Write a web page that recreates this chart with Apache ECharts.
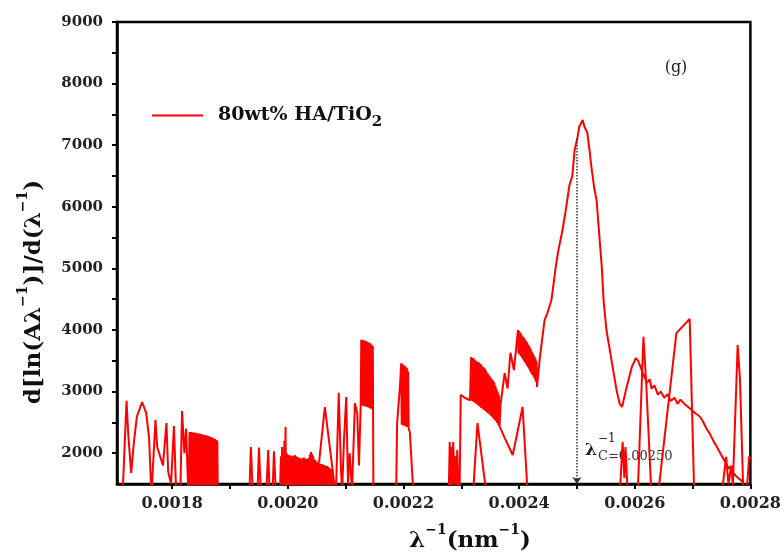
<!DOCTYPE html>
<html>
<head>
<meta charset="utf-8">
<script src="https://cdn.jsdelivr.net/npm/echarts@6/dist/echarts.min.js"></script>
<style>html,body{margin:0;padding:0;background:#fff;}#c{width:784px;height:555px;}</style>
</head>
<body>
<div id="c"></div>
<script>
// ---- data (x = λ⁻¹ in nm⁻¹, y = d[ln(Aλ⁻¹)]/d(λ⁻¹)) ----
// values below the axis minimum (1500) are clipped by the plot, as in the original
const traceLeft = [
[0.001709,1200],[0.001714,1300],[0.001721,2850],[0.001724,2300],[0.001729,1680],[0.001734,2200],[0.001739,2600],[0.001748,2830],[0.001755,2650],[0.001760,2250],[0.001764,1300],[0.001771,2540],[0.001774,2100],[0.001779,1950],[0.001784,1800],[0.001790,2490],[0.001793,1700],[0.001798,1500],[0.001803,2440],[0.001807,1300],[0.001814,1350],[0.001817,2685],[0.001821,2000],[0.001824,2400],[0.001828,1300],
[0.001830,2345],[0.001831,1200],[0.001832,2342],[0.001833,1200],[0.001834,2340],[0.001835,1200],[0.001836,2337],[0.001837,1200],[0.001838,2335],[0.001839,1200],[0.001840,2330],[0.001841,1200],[0.001842,2325],[0.001843,1200],[0.001844,2322],[0.001845,1200],[0.001846,2320],[0.001847,1200],[0.001848,2315],[0.001849,1200],[0.001850,2310],[0.001851,1200],[0.001852,2305],[0.001853,1200],[0.001854,2300],[0.001855,1200],[0.001856,2295],[0.001857,1200],[0.001858,2290],[0.001859,1200],[0.001860,2285],[0.001861,1200],[0.001862,2280],[0.001863,1200],[0.001864,2272],[0.001865,1200],[0.001866,2265],[0.001867,1200],[0.001868,2258],[0.001869,1200],[0.001870,2250],[0.001871,1200],[0.001872,2240],[0.001873,1200],[0.001874,2230],[0.001875,1200],[0.001876,2215],[0.001877,1200],[0.001878,2200],[0.001879,1200],
[0.001933,1200],[0.001936,2100],[0.001940,1200],[0.001947,1200],[0.001950,2090],[0.001954,1200],[0.001962,1200],[0.001966,2050],[0.001969,1200],[0.001973,1200],[0.001976,2030],[0.001980,1200],[0.001986,1200],
[0.001988,1950],[0.001989,1200],[0.001990,2100],[0.001991,1250],[0.001992,2000],[0.001993,1200],[0.001994,2200],[0.001995,1300],[0.001996,2425],[0.001997,1250],[0.001998,2000],[0.001999,1200],
[0.002000,1980],[0.002001,1250],[0.002002,1960],[0.002003,1200],[0.002004,1965],[0.002005,1300],[0.002006,1950],[0.002007,1200],[0.002008,1950],[0.002009,1250],[0.002010,1960],[0.002011,1200],[0.002012,1970],[0.002013,1300],[0.002014,1950],[0.002015,1200],[0.002016,1940],[0.002017,1250],[0.002018,1930],[0.002019,1200],
[0.002020,1920],[0.002021,1300],[0.002022,1915],[0.002023,1200],[0.002024,1910],[0.002025,1250],[0.002026,1920],[0.002027,1200],[0.002028,1930],[0.002029,1300],[0.002030,1910],[0.002031,1200],[0.002032,1900],[0.002033,1250],[0.002034,1910],[0.002035,1200],[0.002036,1920],[0.002037,1300],[0.002038,1980],[0.002039,1200],
[0.002040,2020],[0.002041,1250],[0.002042,1990],[0.002043,1200],[0.002044,1950],[0.002045,1300],[0.002046,1900],[0.002047,1200],[0.002048,1880],[0.002049,1250],[0.002050,1860],[0.002051,1200],[0.002052,1850],[0.002053,1300],[0.002054,1840],[0.002055,1200],[0.002056,1830],[0.002057,1250],[0.002058,1825],[0.002059,1200],
[0.002060,1820],[0.002061,1300],[0.002062,1810],[0.002063,1200],[0.002064,1800],[0.002065,1250],[0.002066,1795],[0.002067,1200],[0.002068,1790],[0.002069,1300],[0.002070,1775],[0.002071,1200],[0.002072,1760],[0.002073,1250],[0.002074,1745],[0.002075,1200],[0.002076,1730],[0.002077,1200],[0.002078,1710],[0.002079,1200],
[0.002079,null],
[0.002054,1850],[0.002064,2750],[0.002083,1300],[0.002088,2980],[0.002092,1700],[0.002094,1400],[0.002097,2200],[0.002101,2910],[0.002104,1500],[0.002107,2000],[0.002111,1400],[0.002116,2810],[0.002120,2650],[0.002123,1800],
[0.002126,2780],[0.002127,3840],[0.002128,2780],[0.002129,3840],[0.002130,2770],[0.002131,3835],[0.002132,2765],[0.002133,3830],[0.002134,2760],[0.002135,3820],[0.002136,2755],[0.002137,3810],[0.002138,2745],[0.002139,3800],[0.002140,2740],[0.002141,3790],[0.002142,2730],[0.002143,3780],[0.002144,2720],[0.002145,3760],[0.002146,2710],[0.002147,3740],[0.002148,1200]
];
const traceMain = [
[0.002187,1200],[0.002189,2490],[0.002192,2470],[0.002194,3100],
[0.002196,3460],[0.002197,2460],[0.002198,3450],[0.002199,2455],[0.002200,3430],[0.002201,2450],[0.002202,3420],[0.002203,2440],[0.002204,3400],[0.002205,2430],[0.002206,3380],[0.002207,2420],[0.002208,3330],[0.002209,2400],[0.002210,2380],[0.002211,2340],[0.002214,2320],[0.002218,1200],
[0.002278,1200],[0.002280,2180],[0.002281,1400],[0.002283,2100],[0.002284,1300],[0.002286,2180],[0.002288,1500],[0.002290,1950],[0.002291,1300],[0.002293,2050],[0.002295,1400],[0.002297,1300],[0.002299,2950],[0.002306,2900],[0.002315,2860],
[0.002317,3560],[0.002318,2850],[0.002319,3550],[0.002320,2840],[0.002321,3540],[0.002322,2830],[0.002323,3520],[0.002324,2820],[0.002325,3500],[0.002326,2800],[0.002327,3490],[0.002328,2790],[0.002329,3480],[0.002330,2770],[0.002331,3465],[0.002332,2760],[0.002333,3450],[0.002334,2740],[0.002335,3430],[0.002336,2730],[0.002337,3400],[0.002338,2710],[0.002339,3390],[0.002340,2700],[0.002341,3370],[0.002342,2680],[0.002343,3340],[0.002344,2670],[0.002345,3300],[0.002346,2650],[0.002347,3280],[0.002348,2640],[0.002349,3250],[0.002350,2620],[0.002351,3230],[0.002352,2600],[0.002353,3200],[0.002354,2580],[0.002355,3180],[0.002356,2560],[0.002357,3150],[0.002358,2540],[0.002359,3100],[0.002360,2520],[0.002361,3050],[0.002362,2490],[0.002363,3000],[0.002364,2460],[0.002365,2950],[0.002366,2420],
[0.002368,2800],[0.002375,3300],[0.002380,3050],[0.002385,3630],[0.002391,3350],
[0.002398,4000],[0.002399,3620],[0.002400,3980],[0.002401,3600],[0.002402,3960],[0.002403,3580],[0.002404,3930],[0.002405,3550],[0.002406,3900],[0.002407,3520],[0.002408,3880],[0.002409,3490],[0.002410,3850],[0.002411,3460],[0.002412,3820],[0.002413,3430],[0.002414,3800],[0.002415,3400],[0.002416,3760],[0.002417,3370],[0.002418,3730],[0.002419,3330],[0.002420,3700],[0.002421,3300],[0.002422,3650],[0.002423,3270],[0.002424,3620],[0.002425,3240],[0.002426,3580],[0.002427,3200],[0.002428,3550],[0.002429,3160],[0.002430,3500],[0.002431,3075],
[0.002436,3560],[0.002444,4160],[0.002449,4275],[0.002456,4490],[0.002463,5000],[0.002468,5300],[0.002474,5570],[0.002480,5900],[0.002487,6350],[0.002492,6500],[0.002496,6920],[0.002501,7130],[0.002504,7300],[0.002510,7410],[0.002513,7300],[0.002518,7200],[0.002522,6900],[0.002525,6650],[0.002530,6300],[0.002534,6110],[0.002539,5500],[0.002543,5020],[0.002546,4490],[0.002551,4000],[0.002560,3500],[0.002569,3000],[0.002574,2800],[0.002578,2750],
[0.002586,3075],[0.002595,3400],[0.002602,3545],[0.002606,3500],[0.002609,3480],[0.002614,3300],[0.002621,3140],[0.002626,3200],[0.002629,3050],[0.002634,3100],[0.002640,2950],[0.002645,3000],[0.002651,2900],[0.002657,2960],[0.002662,2850],[0.002669,2900],[0.002674,2800],[0.002679,2870],[0.002686,2800],[0.002695,2730],[0.002701,2680],[0.002706,2640],[0.002712,2600],[0.002717,2530],[0.002724,2400],[0.002729,2330],[0.002736,2200],[0.002741,2120],[0.002748,2000],[0.002755,1880],[0.002760,1800],[0.002767,1720],[0.002774,1640],[0.002781,1580],[0.002786,1540],[0.002791,1300]
];
const traceOverlap = [
[0.002320,1300],[0.002328,2490],[0.002344,1300],[0.002344,null],
[0.002361,2550],[0.002375,2250],[0.002389,1970],[0.002406,2750],[0.002415,1300],[0.002415,null],
[0.002574,1300],[0.002579,2180],[0.002582,1600],[0.002584,2100],[0.002588,1300],[0.002588,null],
[0.002605,1300],[0.002615,3890],[0.002620,3100],[0.002629,1300],[0.002629,null],
[0.002640,1300],[0.002672,3950],[0.002695,4180],[0.002703,1300],[0.002703,null],
[0.002750,1300],[0.002758,1940],[0.002762,1500],[0.002767,1800],[0.002771,1300],[0.002771,null],
[0.002769,1300],[0.002778,3755],[0.002782,3200],[0.002788,1300],[0.002788,null],
[0.002793,1300],[0.002798,1950],[0.002801,1900]
];
const xLabelValues = [0.0018,0.0020,0.0022,0.0024,0.0026,0.0028];
const xTickValues = [0.0018,0.0019,0.0020,0.0021,0.0022,0.0023,0.0024,0.0025,0.0026,0.0027,0.0028];
const yLabelValues = [2000,3000,4000,5000,6000,7000,8000,9000];
const yTickValues = [2000,2500,3000,3500,4000,4500,5000,5500,6000,6500,7000,7500,8000,8500,9000];
const xRange = [0.0017045, 0.0028];
const yRange = [1500, 9000];
const criticalX = 0.00250;
const criticalTopY = 7100;
const seriesName = '80wt% HA/TiO2';

// ---- build series data ----
const data = [];
[traceLeft, traceMain, traceOverlap].forEach((tr, i) => {
  if (i > 0) data.push([tr[0][0], '-']);
  tr.forEach(p => data.push([p[0], p[1] === null ? '-' : p[1]]));
});

const serif = 'DejaVu Serif';
const chart = echarts.init(document.getElementById('c'), null, {renderer: 'canvas'});
chart.setOption({
  animation: false,
  backgroundColor: '#fff',
  grid: {left: 117, right: 33, top: 22, bottom: 71, show: true, borderColor: '#000', borderWidth: 2.5, backgroundColor: 'transparent'},
  legend: {
    data: [seriesName],
    left: 152, top: 106, padding: 0,
    itemWidth: 51, itemHeight: 14,
    icon: 'path://M0,6 L51,6 L51,8 L0,8 Z',
    itemStyle: {color: '#ff0000'},
    lineStyle: {color: '#ff0000', width: 2},
    textStyle: {padding: [0,0,0,10], rich: {
      a: {fontFamily: serif, fontWeight: 'bold', fontSize: 19, color: '#111', lineHeight: 28, verticalAlign: 'middle'},
      s: {fontFamily: serif, fontWeight: 'bold', fontSize: 15, color: '#111', lineHeight: 10, verticalAlign: 'bottom'}
    }},
    formatter: () => '{a|80wt% HA/TiO}{s|2}'
  },
  xAxis: {
    type: 'value', min: xRange[0], max: xRange[1],
    axisLine: {show: true, onZero: false, lineStyle: {color: '#000', width: 2.5}},
    axisTick: {show: true, inside: false, length: 5, lineStyle: {color: '#000', width: 2}, customValues: xTickValues},
    axisLabel: {customValues: xLabelValues, formatter: v => v.toFixed(4), fontFamily: serif, fontWeight: 'bold', fontSize: 16, color: '#222', margin: 12},
    splitLine: {show: false}
  },
  yAxis: {
    type: 'value', min: yRange[0], max: yRange[1],
    axisLine: {show: true, onZero: false, lineStyle: {color: '#000', width: 2.5}},
    axisTick: {show: true, inside: false, length: 5, lineStyle: {color: '#000', width: 2}, customValues: yTickValues},
    axisLabel: {customValues: yLabelValues, formatter: v => String(v), fontFamily: serif, fontWeight: 'bold', fontSize: 15, color: '#222', margin: 14},
    splitLine: {show: false}
  },
  series: [{
    name: seriesName,
    type: 'line',
    data: data,
    showSymbol: false,
    symbol: 'none',
    connectNulls: false,
    clip: true,
    lineStyle: {color: '#ff0000', width: 2},
    itemStyle: {color: '#ff0000'},
    markLine: {
      silent: true,
      symbol: ['none', 'arrow'],
      symbolSize: 7,
      label: {show: false},
      lineStyle: {type: 'dotted', color: '#333', width: 1.5},
      data: [[{coord: [criticalX, criticalTopY]}, {coord: [criticalX, yRange[0]]}]]
    }
  }],
  graphic: [
    {type: 'text', x: 31, y: 292, rotation: Math.PI / 2, style: {
      text: '{m|d[ln(Aλ}{s|−1}{m|)]/d(λ}{s|−1}{m|)}', align: 'center', verticalAlign: 'middle',
      rich: {
        m: {fontFamily: serif, fontWeight: 'bold', fontSize: 23, fill: '#111', lineHeight: 30, verticalAlign: 'bottom'},
        s: {fontFamily: serif, fontWeight: 'bold', fontSize: 14, fill: '#111', lineHeight: 14, verticalAlign: 'top'}
      }}},
    {type: 'text', x: 470, y: 538, style: {
      text: '{m|λ}{s|−1}{m|(nm}{s|−1}{m|)}', align: 'center', verticalAlign: 'middle',
      rich: {
        m: {fontFamily: serif, fontWeight: 'bold', fontSize: 23, fill: '#111', lineHeight: 30, verticalAlign: 'bottom'},
        s: {fontFamily: serif, fontWeight: 'bold', fontSize: 14, fill: '#111', lineHeight: 14, verticalAlign: 'top'}
      }}},
    {type: 'text', x: 676, y: 68, style: {text: '(g)', fontFamily: serif, fontSize: 16, fill: '#222', align: 'center', verticalAlign: 'middle'}},
    {type: 'text', x: 591, y: 451, style: {text: 'λ', fontFamily: serif, fontWeight: 'bold', fontSize: 17, fill: '#222', align: 'center', verticalAlign: 'middle'}},
    {type: 'text', x: 598, y: 439, style: {text: '−1', fontFamily: serif, fontSize: 12, fill: '#222', align: 'left', verticalAlign: 'middle'}},
    {type: 'text', x: 598, y: 457, style: {text: 'C=0.00250', fontFamily: serif, fontSize: 13, fill: '#333', align: 'left', verticalAlign: 'middle'}}
  ]
});
</script>
</body>
</html>
